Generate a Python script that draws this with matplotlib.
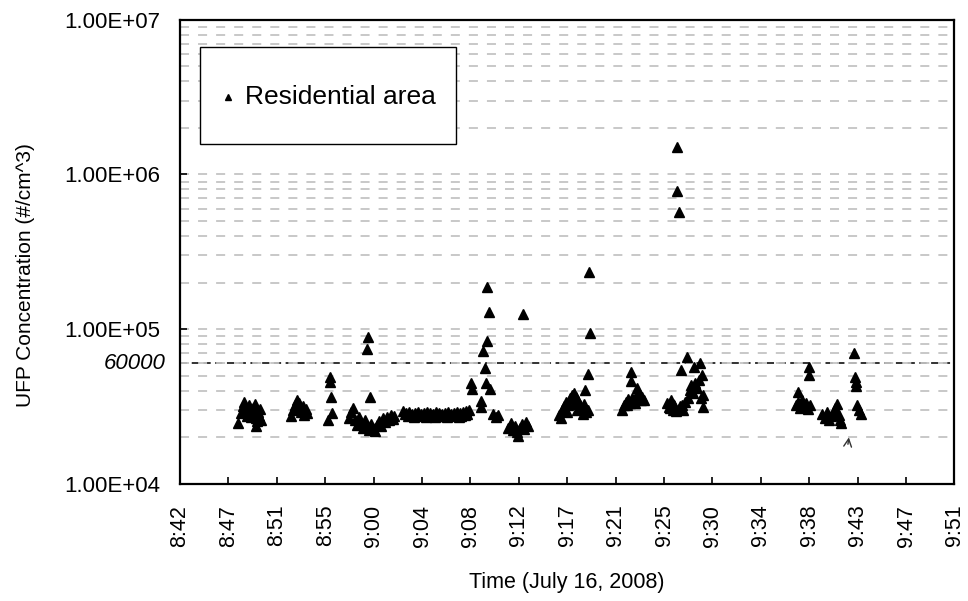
import numpy as np
import matplotlib.pyplot as plt
from matplotlib.patches import Rectangle
from matplotlib.ticker import FixedLocator, FuncFormatter, LogLocator, NullFormatter

plt.rcParams['font.family'] = ['Liberation Sans', 'DejaVu Sans']

# sample time in minutes after 8:00, UFP number concentration in #/cm^3
time_min = [
    # 8:47 - 8:50
    47.86, 48.13, 48.30, 48.39, 48.57, 48.66, 48.83, 48.92, 49.01, 49.19,
    49.28, 49.37, 49.46, 49.54, 49.63, 49.72, 49.81, 49.90, 49.99,
    # 8:52 - 8:54
    52.65, 52.82, 53.00, 53.18, 53.27, 53.35, 53.53, 53.71, 53.80, 53.97, 54.06,
    # 8:56
    56.10, 56.10, 56.19, 56.28, 55.92,
    # 8:57 - 9:02
    57.79, 57.96, 58.14, 58.32, 58.49, 58.67, 58.85, 59.03, 59.20, 59.38,
    59.56, 59.74, 59.91, 60.09, 60.27, 60.44, 60.62, 60.80, 60.98, 61.15,
    61.33, 61.51, 61.69, 61.86, 59.47, 59.38, 59.65,
    # 9:02 - 9:08 (steady)
    62.66, 62.93, 63.19, 63.46, 63.72, 63.99, 64.25, 64.52, 64.79, 65.05,
    65.32, 65.58, 65.85, 66.11, 66.38, 66.65, 66.91, 67.18, 67.44, 67.71,
    67.97, 68.24, 68.51,
    62.79, 63.06, 63.32, 63.59, 63.86, 64.12, 64.39, 64.65, 64.92, 65.19,
    65.45, 65.72, 65.98, 66.25, 66.52, 66.78, 67.05, 67.31, 67.58, 67.84,
    68.11, 68.37,
    # 9:08 - 9:11
    68.69, 68.77, 69.57, 69.57, 70.10, 70.28, 70.10, 69.75, 69.93, 70.02,
    70.37, 70.64, 70.90, 71.08,
    # 9:12 - 9:13
    71.96, 72.23, 72.41, 72.58, 72.76, 72.85, 73.03, 73.21, 73.38, 73.56,
    73.74, 73.29,
    # 9:16 - 9:19
    79.23, 79.32, 79.14, 78.88,
    76.57, 76.84, 77.02, 77.19, 77.37, 77.55, 77.72, 77.90, 78.08, 78.26,
    78.43, 78.61, 78.79, 78.97, 79.14, 76.75, 77.28, 77.81, 78.17, 78.70,
    # 9:22 - 9:24
    82.95, 82.95, 83.49,
    82.16, 82.33, 82.51, 82.69, 82.87, 83.04, 83.22, 83.40, 83.57, 83.75,
    83.93, 84.11, 82.60, 83.31, 83.84,
    # 9:26 - 9:29
    86.14, 86.32, 86.50, 86.68, 86.85, 87.03, 87.12, 87.12, 87.21, 87.38,
    87.47, 87.65, 87.83, 88.00, 88.09, 88.27, 88.36, 88.54, 88.63, 88.71,
    88.89, 89.07, 89.16, 89.25, 89.33, 89.42, 89.42, 86.41, 86.76, 87.21,
    87.56,
    # 9:37 - 9:38
    98.82, 98.82, 97.84,
    97.66, 97.84, 98.02, 98.20, 98.37, 98.55, 98.73, 98.91,
    # 9:40 - 9:41
    100.06, 100.32, 100.50, 100.68, 100.86, 101.03, 101.21, 101.39, 101.56,
    101.65, 101.74,
    # 9:42 - 9:43
    102.89, 102.98, 103.07, 103.07, 103.16, 103.34, 103.51,
]
ufp = [
    24800, 28800, 31900, 33900, 30100, 27500, 32400, 29600, 27100, 31000,
    28800, 32900, 26700, 23700, 25500, 29200, 27500, 30500, 25900,
    27500, 30100, 32400, 34900, 31000, 33400, 29200, 31900, 27900, 30500, 28800,
    49100, 45600, 36500, 28800, 25900,
    26700, 29200, 31000, 25900, 24100, 27100, 24800, 23000, 25900, 23700,
    22300, 24400, 23000, 22000, 24100, 25500, 23700, 26700, 25200, 27100,
    25900, 27900, 26300, 27500, 89000, 74700, 36500,
    29700, 28800, 29200, 28400, 28800, 29200, 28400, 28800, 29200, 28800,
    28400, 29200, 28800, 28400, 28800, 29200, 28400, 28800, 29200, 28800,
    29200, 29700, 30100,
    28400, 27500, 27900, 27100, 27900, 27500, 27900, 27100, 27500, 27900,
    27100, 27500, 27900, 27500, 27100, 27900, 27500, 27900, 27100, 27500,
    27900, 28400,
    45000, 41100, 34400, 31500, 187700, 129400, 84000, 72400, 56200, 45000,
    41100, 28400, 27100, 27900,
    23000, 24800, 22300, 23700, 21700, 20400, 23000, 24400, 22700, 25200,
    23700, 125600,
    234700, 94600, 51400, 40500,
    27900, 30100, 31900, 33900, 32400, 36000, 37600, 38700, 36500, 34400,
    32400, 31000, 32900, 29200, 30100, 26700, 29200, 32900, 30100, 28400,
    53000, 46300, 41700,
    30100, 32400, 33900, 35400, 33400, 36000, 34400, 37100, 35400, 37600,
    36500, 34900, 32400, 33400, 34900,
    33400, 31500, 34900, 30100, 32400, 29600, 1508000, 783000, 573000, 31900,
    54600, 30100, 33900, 66200, 36000, 40500, 43600, 38800, 57000, 45000,
    41700, 47000, 60600, 36000, 50700, 37600, 31500, 31000, 32900, 30500,
    32400,
    57100, 50700, 39300,
    32400, 33900, 31000, 34900, 31900, 33400, 30500, 32400,
    28400, 26700, 29200, 25900, 27500, 28800, 31000, 32900, 27900,
    25900, 24800,
    70300, 48800, 45600, 43000, 32400, 30100, 28400,
]

threshold = 60000
x_start = 42.72   # 8:42:43
x_step = 4.32
n_steps = 16


def clock_label(m, pos=None):
    m = int(m + 1e-6)
    return f"{8 + m // 60}:{m % 60:02d}"


fig, ax = plt.subplots(figsize=(9.68, 6.01), dpi=100)
fig.subplots_adjust(left=0.186, right=0.986, bottom=0.195, top=0.967)

ax.set_yscale('log')
ax.set_ylim(1e4, 1e7)
ax.set_xlim(x_start, x_start + n_steps * x_step)

ax.yaxis.set_major_locator(LogLocator(base=10, numticks=10))
ax.yaxis.set_minor_locator(LogLocator(base=10, subs=np.arange(2, 10), numticks=10))
ax.yaxis.set_major_formatter(FuncFormatter(lambda v, p: f"{v:.2E}"))
ax.yaxis.set_minor_formatter(NullFormatter())
ax.xaxis.set_major_locator(FixedLocator(x_start + x_step * np.arange(n_steps + 1)))
ax.xaxis.set_major_formatter(FuncFormatter(clock_label))

ax.grid(which='both', axis='y', color='#c4c4c4', lw=1.3, ls=(0, (5, 5)), zorder=0)
ax.tick_params(axis='y', which='minor', length=0)
ax.tick_params(axis='both', which='major', direction='in', length=5, width=1.2,
               top=False, right=False)
ax.tick_params(axis='y', labelsize=16, pad=14)
ax.tick_params(axis='x', labelsize=15.5, pad=15, labelrotation=90)

for s in ax.spines.values():
    s.set_linewidth(1.6)

ax.axhline(threshold, color='#222222', lw=1.3, ls=(0, (4, 2.5)), zorder=1)
ax.text(-0.019, threshold, f"{threshold}", transform=ax.get_yaxis_transform(),
        ha='right', va='center', fontsize=16, style='italic')

ax.plot(time_min, ufp, ls='none', marker='^', ms=6.5, color='black', zorder=3)

ax.annotate('', xy=(102.45, 20800), xytext=(102.3, 17300),
            arrowprops=dict(arrowstyle='->', lw=1.0, color='#333333',
                            mutation_scale=14))

# legend box
ax.add_patch(Rectangle((0.0258, 0.733), 0.330, 0.209, transform=ax.transAxes,
                       facecolor='white', edgecolor='black', lw=1.0, zorder=4))
ax.plot([0.062], [0.834], transform=ax.transAxes, marker='^', ms=5,
        color='black', ls='none', zorder=5)
ax.text(0.084, 0.834, 'Residential area', transform=ax.transAxes,
        ha='left', va='center', fontsize=19, zorder=5)

ax.set_xlabel('Time (July 16, 2008)', fontsize=15.5, labelpad=18)
ax.set_ylabel('UFP Concentration (#/cm^3)', fontsize=15)
ax.yaxis.set_label_coords(-0.187, 0.45)

fig.savefig('out.png', dpi=100)
